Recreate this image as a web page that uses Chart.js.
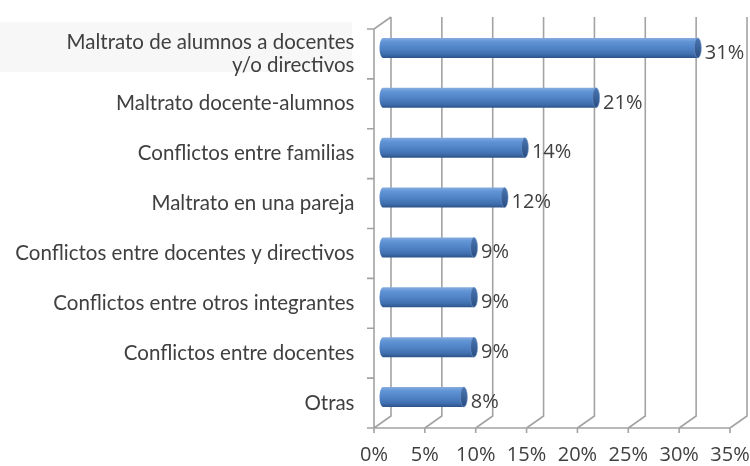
<!DOCTYPE html>
<html>
<head>
<meta charset="utf-8">
<script src="https://cdn.jsdelivr.net/npm/chart.js@4"></script>
<style>
  html, body { margin: 0; padding: 0; background: #fff; }
</style>
</head>
<body>
<canvas id="chart" width="750" height="466"></canvas>
<script>
// data
const categories = [
  ["Maltrato de alumnos a docentes", "y/o directivos"],
  "Maltrato docente-alumnos",
  "Conflictos entre familias",
  "Maltrato en una pareja",
  "Conflictos entre docentes y directivos",
  "Conflictos entre otros integrantes",
  "Conflictos entre docentes",
  "Otras",
];
const values = [31, 21, 14, 12, 9, 9, 9, 8];
const tickValues = [0, 5, 10, 15, 20, 25, 30, 35];

const TEXT = "#404040";
const GRID = "#a3a3a3";
const DEPTH_X = 8.5, DEPTH_Y = 6;
const BAR_FRAC = 0.4;

function barGradient(ctx, cy, h) {
  const g = ctx.createLinearGradient(0, cy - h / 2, 0, cy + h / 2);
  g.addColorStop(0, "#86acdf");
  g.addColorStop(0.18, "#6295d6");
  g.addColorStop(0.5, "#5184c7");
  g.addColorStop(0.82, "#3f6eae");
  g.addColorStop(1, "#2c5288");
  return g;
}

// 3D-ish frame: back wall gridlines, floor diagonals, left wall
const frame = {
  id: "frame",
  beforeDraw(chart) {
    const { ctx } = chart;
    ctx.save();
    ctx.fillStyle = "#f7f7f7";
    ctx.fillRect(0, 22, 352, 50);
    ctx.restore();
  },
  beforeDatasetsDraw(chart) {
    const { ctx, chartArea: a, scales: { x, y } } = chart;
    const backTop = a.top - DEPTH_Y, backBottom = a.bottom - DEPTH_Y;
    const frontTop = a.top + DEPTH_Y, frontBottom = a.bottom + DEPTH_Y;
    ctx.save();
    ctx.strokeStyle = GRID;
    ctx.lineWidth = 1.6;
    ctx.beginPath();
    tickValues.forEach(v => {
      const px = x.getPixelForValue(v);
      const bx = px + DEPTH_X, fx = px - DEPTH_X;
      ctx.moveTo(bx, backTop); ctx.lineTo(bx, backBottom);
      ctx.lineTo(fx, frontBottom); ctx.lineTo(fx, frontBottom + 5);
    });
    const x0 = x.getPixelForValue(0) - DEPTH_X;
    const x35 = x.getPixelForValue(35) - DEPTH_X;
    ctx.moveTo(x0, frontBottom); ctx.lineTo(x35, frontBottom);
    ctx.moveTo(x0, frontBottom); ctx.lineTo(x0, frontTop);
    ctx.lineTo(x0 + 2 * DEPTH_X, backTop);
    for (let i = 0; i <= categories.length; i++) {
      const yb = y.getPixelForValue(i - 0.5) + DEPTH_Y;
      ctx.moveTo(x0 - 7, yb); ctx.lineTo(x0, yb);
    }
    ctx.stroke();
    ctx.restore();
  },
  afterDatasetsDraw(chart) {
    const { ctx } = chart;
    const meta = chart.getDatasetMeta(0);
    ctx.save();
    meta.data.forEach((el, i) => {
      const h = el.height, rx = 3.5;
      // rounded left end
      ctx.fillStyle = barGradient(ctx, el.y, h);
      ctx.beginPath();
      ctx.ellipse(el.base + 0.5, el.y, rx, h / 2, 0, Math.PI / 2, Math.PI * 1.5);
      ctx.closePath();
      ctx.fill();
      // darker end cap
      const g = ctx.createLinearGradient(0, el.y - h / 2, 0, el.y + h / 2);
      g.addColorStop(0, "#4a76b2");
      g.addColorStop(1, "#2a4d80");
      ctx.fillStyle = g;
      ctx.beginPath();
      ctx.ellipse(el.x, el.y, rx, h / 2, 0, 0, Math.PI * 2);
      ctx.fill();
      ctx.strokeStyle = "rgba(110,150,205,0.7)";
      ctx.lineWidth = 0.8;
      ctx.stroke();
      // value label
      ctx.fillStyle = TEXT;
      ctx.font = "20px 'Open Sans'";
      ctx.textAlign = "left";
      ctx.textBaseline = "middle";
      ctx.fillText(values[i] + "%", el.x + 7, el.y + 5);
    });
    ctx.restore();
  },
};

new Chart(document.getElementById("chart").getContext("2d"), {
  type: "bar",
  data: {
    labels: categories,
    datasets: [{
      data: values,
      backgroundColor: (c) => {
        const chart = c.chart;
        if (!chart.chartArea || c.dataIndex === undefined) return "#4f81bd";
        const y = chart.scales.y;
        const cy = y.getPixelForValue(c.dataIndex);
        const h = y.getPixelForValue(1) - y.getPixelForValue(0);
        return barGradient(chart.ctx, cy, h * BAR_FRAC);
      },
      borderWidth: 0,
      barPercentage: BAR_FRAC,
      categoryPercentage: 1,
    }],
  },
  options: {
    indexAxis: "y",
    responsive: false,
    animation: false,
    layout: { autoPadding: false, padding: { top: 23, right: 11.5, left: 0, bottom: 0 } },
    plugins: { legend: { display: false }, tooltip: { enabled: false } },
    scales: {
      x: {
        min: 0, max: 35,
        afterFit: (s) => { s.height = 44; s.paddingLeft = 0; s.paddingRight = 0; },
        grid: { display: false, drawTicks: false, tickLength: 0 },
        border: { display: false },
        ticks: {
          stepSize: 5, padding: 21, labelOffset: -DEPTH_X, maxRotation: 0,
          color: TEXT, font: { family: "'Open Sans'", size: 20 },
          callback: (v) => v + "%",
        },
      },
      y: {
        afterFit: (s) => { s.width = 382.5; s.paddingTop = 0; s.paddingBottom = 0; },
        grid: { display: false, drawTicks: false, tickLength: 0 },
        border: { display: false },
        ticks: {
          padding: 28, labelOffset: DEPTH_Y,
          color: TEXT, font: { family: "Lato", size: 20.5, lineHeight: 1.1 },
        },
      },
    },
  },
  plugins: [frame],
});
</script>
</body>
</html>
